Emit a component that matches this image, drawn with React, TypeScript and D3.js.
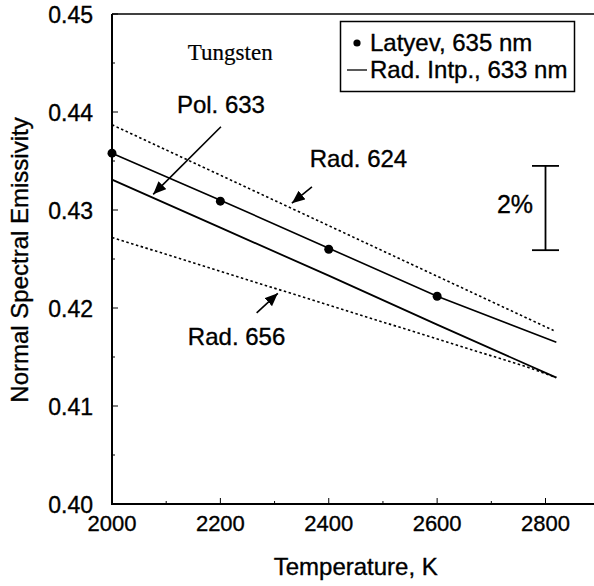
import React from 'react';
import * as d3 from 'd3';

const W = 594;
const H = 586;

// Data
const latyevT = [2000, 2200, 2400, 2600];
const latyevE = [0.4358, 0.4309, 0.426, 0.4212];
const radIntpT = [2000, 2200, 2400, 2600, 2820];
const radIntpE = [0.4358, 0.431, 0.4261, 0.4212, 0.4165];
const pol633T = [2000, 2200, 2400, 2600, 2820];
const pol633E = [0.4331, 0.4282, 0.4233, 0.4183, 0.4129];
const rad624T = [2000, 2400, 2815];
const rad624E = [0.4387, 0.4284, 0.4177];
const rad656T = [2000, 2440, 2765, 2820];
const rad656E = [0.4272, 0.4196, 0.414, 0.4129];

const xTicks = [2000, 2200, 2400, 2600, 2800];
const xMinorTicks = [2100, 2300, 2500, 2700];
const yTicks = [0.4, 0.41, 0.42, 0.43, 0.44, 0.45];
const yMinorTicks = [0.405, 0.415, 0.425, 0.435, 0.445];
const yTickLabels = ['0.40', '0.41', '0.42', '0.43', '0.44', '0.45'];

const annotTexts = ['Tungsten', 'Pol. 633', 'Rad. 624', 'Rad. 656', '2%'];
const annotT = [2140, 2201, 2365, 2140, 2777];
const annotE = [0.4453, 0.4399, 0.4344, 0.4162, 0.4297];
const annotAnchor = ['start', 'middle', 'start', 'start', 'end'];

const arrowFromT = [2201, 2369, 2267];
const arrowFromE = [0.4385, 0.43235, 0.4195];
const arrowToT = [2076, 2332, 2306];
const arrowToE = [0.4316, 0.4307, 0.4215];

const errT = 2800;
const errTop = 0.4345;
const errBottom = 0.4259;

const legendLabels = ['Latyev, 635 nm', 'Rad. Intp., 633 nm'];

const SANS = '"Liberation Sans", Arial, Helvetica, sans-serif';
const SERIF = '"Liberation Serif", "Times New Roman", serif';
const TS = 0.35; // slight stroke to mimic heavier print

export default function App() {
  const x = d3.scaleLinear().domain([2000, 2800]).range([112, 545.5]);
  const y = d3.scaleLinear().domain([0.4, 0.45]).range([504, 14]);
  const x0 = x(2000);
  const yTop = y(0.45);
  const yBot = y(0.4);

  const line = d3
    .line<[number, number]>()
    .x((d) => x(d[0]))
    .y((d) => y(d[1]));
  const pts = (ts: number[], es: number[]) => ts.map((t, i) => [t, es[i]] as [number, number]);

  return (
    <svg
      width={W}
      height={H}
      style={{ position: 'absolute', left: 0, top: 0, background: '#fff' }}
    >
      <defs>
        <marker
          id="ah"
          markerUnits="userSpaceOnUse"
          markerWidth={14}
          markerHeight={12}
          refX={13}
          refY={5.5}
          orient="auto"
        >
          <path d="M0,0 L13,5.5 L0,11 z" fill="#000" />
        </marker>
      </defs>
      <rect x={0} y={0} width={W} height={H} fill="#fff" />

      {/* frame */}
      <line x1={x0} y1={yTop} x2={x0} y2={yBot} stroke="#000" strokeWidth={2} />
      <line x1={x0} y1={yTop} x2={W} y2={yTop} stroke="#000" strokeWidth={1.6} />
      <line x1={x0 - 1} y1={yBot} x2={W} y2={yBot} stroke="#000" strokeWidth={2} />

      {/* x ticks */}
      {xTicks.map((t) => (
        <g key={'xt' + t}>
          <line x1={x(t)} x2={x(t)} y1={yBot} y2={yBot - 6} stroke="#000" strokeWidth={1} />
          <text
            x={x(t)}
            y={yBot + 27}
            textAnchor="middle"
            fontFamily={SANS}
            fontSize={22}
            fill="#000"
            stroke="#000"
            strokeWidth={TS}
          >
            {t}
          </text>
        </g>
      ))}
      {xMinorTicks.map((t) => (
        <line key={'xm' + t} x1={x(t)} x2={x(t)} y1={yBot} y2={yBot - 3} stroke="#000" strokeWidth={1} />
      ))}

      {/* y ticks */}
      {yTicks.map((v, i) => (
        <g key={'yt' + v}>
          <line x1={x0} x2={x0 + 6} y1={y(v)} y2={y(v)} stroke="#000" strokeWidth={1} />
          <text
            x={x0 - 19}
            y={y(v) + 9}
            textAnchor="end"
            fontFamily={SANS}
            fontSize={23}
            fill="#000"
            stroke="#000"
            strokeWidth={TS}
          >
            {yTickLabels[i]}
          </text>
        </g>
      ))}
      {yMinorTicks.map((v) => (
        <line key={'ym' + v} x1={x0} x2={x0 + 3} y1={y(v)} y2={y(v)} stroke="#000" strokeWidth={1} />
      ))}

      {/* axis titles */}
      <text
        x={(x(2000) + x(2800)) / 2 + 27}
        y={575}
        textAnchor="middle"
        fontFamily={SANS}
        fontSize={24}
        fill="#000"
        stroke="#000"
        strokeWidth={TS}
      >
        Temperature, K
      </text>
      <text
        transform={`translate(28, ${(yTop + yBot) / 2 + 1}) rotate(-90)`}
        textAnchor="middle"
        fontFamily={SANS}
        fontSize={24}
        fill="#000"
        stroke="#000"
        strokeWidth={TS}
      >
        Normal Spectral Emissivity
      </text>

      {/* curves */}
      <path d={line(pts(rad624T, rad624E)) || ''} fill="none" stroke="#000" strokeWidth={1.6} strokeDasharray="2.5,2.5" />
      <path d={line(pts(rad656T, rad656E)) || ''} fill="none" stroke="#000" strokeWidth={1.6} strokeDasharray="2.5,2.5" />
      <path d={line(pts(radIntpT, radIntpE)) || ''} fill="none" stroke="#000" strokeWidth={1.6} />
      <path d={line(pts(pol633T, pol633E)) || ''} fill="none" stroke="#000" strokeWidth={1.8} />

      {/* Latyev points */}
      {latyevT.map((t, i) => (
        <circle key={'p' + t} cx={x(t)} cy={y(latyevE[i])} r={4.5} fill="#000" />
      ))}

      {/* annotations */}
      {annotTexts.map((s, i) => (
        <text
          key={'a' + i}
          x={x(annotT[i])}
          y={y(annotE[i])}
          textAnchor={annotAnchor[i] as any}
          fontFamily={i === 0 ? SERIF : SANS}
          fontSize={i === 0 ? 23 : i === 4 ? 25 : 24}
          fill="#000"
          stroke="#000"
          strokeWidth={i === 0 ? 0.2 : TS}
        >
          {s}
        </text>
      ))}
      {arrowFromT.map((t, i) => (
        <line
          key={'ar' + i}
          x1={x(t)}
          y1={y(arrowFromE[i])}
          x2={x(arrowToT[i])}
          y2={y(arrowToE[i])}
          stroke="#000"
          strokeWidth={1.6}
          markerEnd="url(#ah)"
        />
      ))}

      {/* 2% error bar */}
      <g stroke="#000" strokeWidth={1.8}>
        <line x1={x(errT)} x2={x(errT)} y1={y(errTop)} y2={y(errBottom)} />
        <line x1={x(errT) - 13.5} x2={x(errT) + 13.5} y1={y(errTop)} y2={y(errTop)} />
        <line x1={x(errT) - 13.5} x2={x(errT) + 13.5} y1={y(errBottom)} y2={y(errBottom)} />
      </g>

      {/* legend */}
      <rect x={340.5} y={21.5} width={234} height={70} fill="#fff" stroke="#000" strokeWidth={1.5} />
      <circle cx={357} cy={43} r={3.6} fill="#000" />
      <text x={370} y={51} fontFamily={SANS} fontSize={24} fill="#000" stroke="#000" strokeWidth={TS}>
        {legendLabels[0]}
      </text>
      <line x1={347} x2={367} y1={70} y2={70} stroke="#000" strokeWidth={1.3} />
      <text x={370} y={78} fontFamily={SANS} fontSize={24} fill="#000" stroke="#000" strokeWidth={TS}>
        {legendLabels[1]}
      </text>
    </svg>
  );
}
